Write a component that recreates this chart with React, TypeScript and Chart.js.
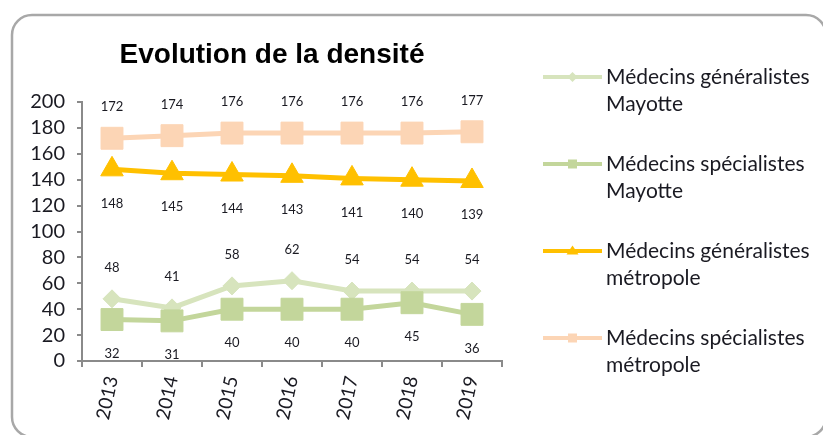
import React, { useEffect, useRef } from "react";
import { Chart, registerables } from "chart.js";

Chart.register(...registerables);

// ---------- data ----------
const years = ["2013", "2014", "2015", "2016", "2017", "2018", "2019"];
const generalistesMayotte = [48, 41, 58, 62, 54, 54, 54];
const specialistesMayotte = [32, 31, 40, 40, 40, 45, 36];
const generalistesMetropole = [148, 145, 144, 143, 141, 140, 139];
const specialistesMetropole = [172, 174, 176, 176, 176, 176, 177];
const seriesLabels = [
  ["Médecins généralistes", "Mayotte"],
  ["Médecins spécialistes", "Mayotte"],
  ["Médecins généralistes", "métropole"],
  ["Médecins spécialistes", "métropole"],
];
const chartTitle = "Evolution de la densité";
const yMin = 0;
const yMax = 200;
const yStep = 20;

// ---------- styles ----------
const seriesColors = ["#d7e4bd", "#c3d69b", "#ffc000", "#fcd5b5"];
const seriesShapes = ["rectRot", "rect", "triangle", "rect"];
const seriesRadius = [9, 15.5, 13, 15.5];
const labelSide = ["above", "below", "below", "above"];
const axisColor = "#8a8a8a";
const textColor = "#1a1a22";
const W = 823;
const H = 435;

const framePlugin = {
  id: "frame",
  beforeDraw(chart: any) {
    const ctx = chart.ctx;
    ctx.save();
    ctx.fillStyle = "#ffffff";
    ctx.fillRect(0, 0, W, H);
    const x = 12, y = 15, r = 20, right = 826, bottom = 437;
    ctx.beginPath();
    ctx.moveTo(x + r, y);
    ctx.lineTo(right - r, y);
    ctx.arcTo(right, y, right, y + r, r);
    ctx.lineTo(right, bottom - r);
    ctx.arcTo(right, bottom, right - r, bottom, r);
    ctx.lineTo(x + r, bottom);
    ctx.arcTo(x, bottom, x, bottom - r, r);
    ctx.lineTo(x, y + r);
    ctx.arcTo(x, y, x + r, y, r);
    ctx.closePath();
    ctx.strokeStyle = "#a8a8a8";
    ctx.lineWidth = 2.5;
    ctx.stroke();
    // title
    ctx.fillStyle = "#000000";
    ctx.font = "bold 28px 'Liberation Sans', Arial, sans-serif";
    ctx.textAlign = "center";
    ctx.textBaseline = "alphabetic";
    ctx.fillText(chartTitle, 272, 63);
    ctx.restore();
  },
};

const valueLabelPlugin = {
  id: "valueLabels",
  afterDatasetsDraw(chart: any) {
    const ctx = chart.ctx;
    ctx.save();
    ctx.font = "13px Lato, sans-serif";
    ctx.fillStyle = textColor;
    ctx.textAlign = "center";
    ctx.textBaseline = "middle";
    chart.data.datasets.forEach((ds: any, i: number) => {
      const meta = chart.getDatasetMeta(i);
      const dy = ds.labelSide === "above" ? -31 : 34;
      meta.data.forEach((pt: any, j: number) => {
        ctx.fillText(String(ds.data[j]), pt.x, pt.y + dy);
      });
    });
    ctx.restore();
  },
};

function drawMarker(ctx: CanvasRenderingContext2D, shape: string, x: number, y: number) {
  ctx.beginPath();
  if (shape === "rectRot") {
    const s = 5;
    ctx.moveTo(x - s, y);
    ctx.lineTo(x, y - s);
    ctx.lineTo(x + s, y);
    ctx.lineTo(x, y + s);
  } else if (shape === "triangle") {
    const s = 6;
    ctx.moveTo(x - s, y + s * 0.6);
    ctx.lineTo(x, y - s * 0.9);
    ctx.lineTo(x + s, y + s * 0.6);
  } else {
    const s = 4.5;
    ctx.rect(x - s, y - s, 2 * s, 2 * s);
  }
  ctx.closePath();
  ctx.fill();
}

const legendPlugin = {
  id: "sideLegend",
  afterDraw(chart: any) {
    const ctx = chart.ctx;
    ctx.save();
    const lineX0 = 543, lineX1 = 602, textX = 606;
    const firstY = 77, stepY = 87, lineGap = 27;
    seriesLabels.forEach((lines, i) => {
      const y = firstY + i * stepY;
      ctx.strokeStyle = seriesColors[i];
      ctx.fillStyle = seriesColors[i];
      ctx.lineWidth = 4;
      ctx.beginPath();
      ctx.moveTo(lineX0, y);
      ctx.lineTo(lineX1, y);
      ctx.stroke();
      drawMarker(ctx, seriesShapes[i], (lineX0 + lineX1) / 2, y);
      ctx.fillStyle = textColor;
      ctx.font = "21px Lato, sans-serif";
      ctx.textAlign = "left";
      ctx.textBaseline = "middle";
      lines.forEach((t, k) => ctx.fillText(t, textX, y + k * lineGap));
    });
    ctx.restore();
  },
};

export default function App() {
  const ref = useRef<HTMLCanvasElement | null>(null);

  useEffect(() => {
    if (!ref.current) return;
    const seriesData = [generalistesMayotte, specialistesMayotte, generalistesMetropole, specialistesMetropole];
    const drawOrder = [2, 1, 3, 4];
    const chart = new Chart(ref.current, {
      type: "line",
      data: {
        labels: years,
        datasets: seriesData.map((d, i) => ({
          label: seriesLabels[i].join(" "),
          data: d,
          borderColor: seriesColors[i],
          backgroundColor: seriesColors[i],
          borderWidth: 5,
          pointStyle: seriesShapes[i] as any,
          pointRadius: seriesRadius[i],
          pointBorderWidth: 1,
          pointBackgroundColor: seriesColors[i],
          pointBorderColor: seriesColors[i],
          tension: 0,
          order: drawOrder[i],
          labelSide: labelSide[i],
        })) as any,
      },
      options: {
        responsive: false,
        animation: false,
        devicePixelRatio: 1,
        layout: { padding: { top: 102, right: 321, left: 0, bottom: 0 } },
        plugins: {
          legend: { display: false },
          tooltip: { enabled: false },
          title: { display: false },
        },
        scales: {
          x: {
            offset: true,
            grid: {
              offset: true,
              drawOnChartArea: false,
              drawTicks: true,
              tickLength: 6,
              color: axisColor,
              lineWidth: 2,
            },
            border: { color: axisColor, width: 2 },
            ticks: {
              minRotation: 78,
              maxRotation: 78,
              autoSkip: false,
              padding: 7,
              color: textColor,
              font: { family: "Lato", size: 19 },
            },
            afterFit: (s: any) => {
              s.height = 74;
            },
          },
          y: {
            min: yMin,
            max: yMax,
            ticks: {
              stepSize: yStep,
              autoSkip: false,
              padding: 12,
              color: textColor,
              font: { family: "Lato", size: 20 },
            },
            grid: {
              drawOnChartArea: false,
              drawTicks: true,
              tickLength: 5,
              color: axisColor,
              lineWidth: 2,
            },
            border: { color: axisColor, width: 2 },
            afterFit: (s: any) => {
              s.width = 82;
            },
          },
        },
      },
      plugins: [framePlugin, valueLabelPlugin, legendPlugin],
    });
    return () => chart.destroy();
  }, []);

  return (
    <div style={{ position: "absolute", left: 0, top: 0, width: W, height: H }}>
      <canvas ref={ref} width={W} height={H} style={{ display: "block" }} />
    </div>
  );
}
